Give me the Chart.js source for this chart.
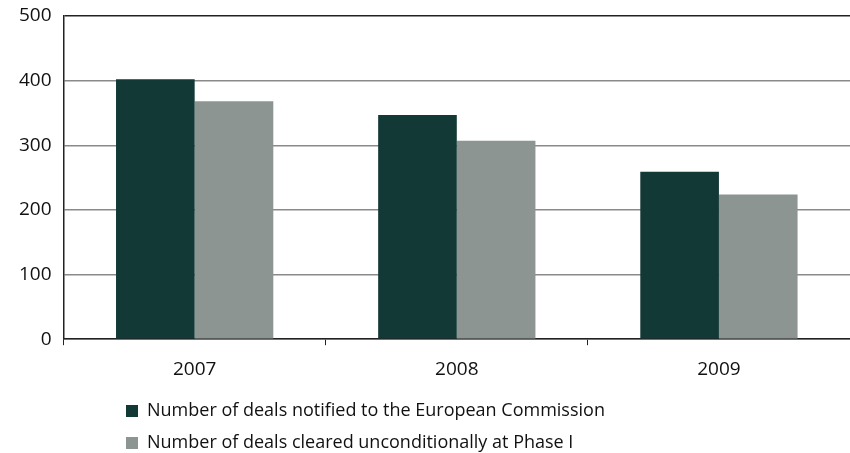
<!DOCTYPE html>
<html lang="en">
    <head>
        <meta charset="utf-8" />
        <title>Deals notified and cleared</title>
        <style>
            html,
            body {
                margin: 0;
                padding: 0;
                background: #ffffff;
            }
            .chart-wrap {
                width: 850px;
                height: 453px;
            }
        </style>
    </head>
    <body>
        <div class="chart-wrap">
            <canvas id="deals_chart"></canvas>
        </div>

        <script src="https://cdn.jsdelivr.net/npm/chart.js"></script>
        <script>
            const years = ["2007", "2008", "2009"];
            const notified = [402, 347, 259];
            const cleared = [368, 307, 224];
            const yTicks = [0, 100, 200, 300, 400, 500];

            const darkGreen = "#133936";
            const greyGreen = "#8c9591";
            const textColor = "#111111";
            const fontFamily = "'Open Sans', 'DejaVu Sans', sans-serif";

            // nudge the legend so both rows start at the same left edge
            const legendShift = {
                id: "legendShift",
                afterLayout(chart) {
                    chart.legend.left = 112;
                },
            };

            new Chart(document.getElementById("deals_chart"), {
                type: "bar",
                data: {
                    labels: years,
                    datasets: [
                        {
                            label: "Number of deals notified to the European Commission",
                            data: notified,
                            backgroundColor: darkGreen,
                        },
                        {
                            label: "Number of deals cleared unconditionally at Phase I",
                            data: cleared,
                            backgroundColor: greyGreen,
                        },
                    ],
                },
                options: {
                    responsive: true,
                    maintainAspectRatio: false,
                    animation: false,
                    datasets: {
                        bar: {
                            categoryPercentage: 0.6,
                            barPercentage: 1.0,
                        },
                    },
                    layout: {
                        padding: { left: 19, right: 0, top: 16, bottom: -9 },
                    },
                    plugins: {
                        tooltip: { enabled: false },
                        legend: {
                            position: "bottom",
                            align: "start",
                            labels: {
                                boxWidth: 12,
                                boxHeight: 12,
                                padding: 14,
                                color: textColor,
                                font: { family: fontFamily, size: 18 },
                            },
                        },
                    },
                    scales: {
                        x: {
                            offset: true,
                            afterFit(axis) {
                                axis.height -= 6;
                            },
                            grid: {
                                offset: true,
                                drawOnChartArea: false,
                                drawTicks: true,
                                tickLength: 6,
                                color: "#222222",
                                lineWidth: 1,
                            },
                            border: { color: "#222222", width: 1.5 },
                            ticks: {
                                color: textColor,
                                padding: 13,
                                font: { family: fontFamily, size: 19 },
                            },
                        },
                        y: {
                            min: 0,
                            max: 500,
                            afterBuildTicks(axis) {
                                axis.ticks = yTicks.map((v) => ({ value: v }));
                            },
                            grid: {
                                drawTicks: true,
                                tickLength: 12,
                                tickColor: "rgba(0,0,0,0)",
                                color: (ctx) =>
                                    ctx.tick && ctx.tick.value === 500
                                        ? "#222222"
                                        : "#8a8a8a",
                                lineWidth: 1.5,
                            },
                            border: { color: "#222222", width: 1.5 },
                            ticks: {
                                color: textColor,
                                padding: 0,
                                font: { family: fontFamily, size: 19 },
                            },
                        },
                    },
                },
                plugins: [legendShift],
            });
        </script>
    </body>
</html>
